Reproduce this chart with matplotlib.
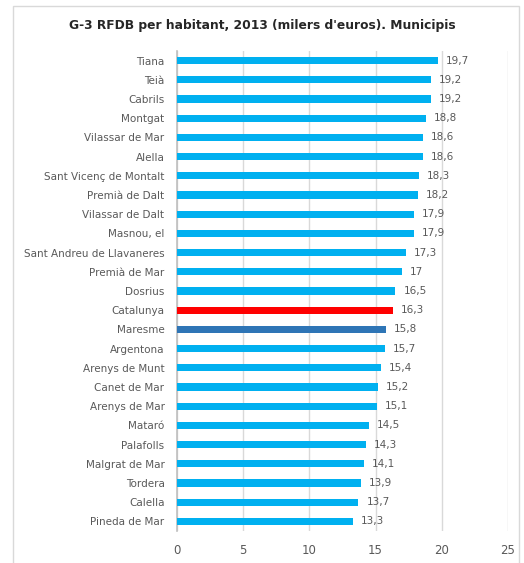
import matplotlib.pyplot as plt
from matplotlib.patches import Rectangle

municipis = ['Tiana', 'Teià', 'Cabrils', 'Montgat', 'Vilassar de Mar', 'Alella',
             'Sant Vicenç de Montalt', 'Premià de Dalt', 'Vilassar de Dalt',
             'Masnou, el', 'Sant Andreu de Llavaneres', 'Premià de Mar', 'Dosrius',
             'Catalunya', 'Maresme', 'Argentona', 'Arenys de Munt', 'Canet de Mar',
             'Arenys de Mar', 'Mataró', 'Palafolls', 'Malgrat de Mar', 'Tordera',
             'Calella', 'Pineda de Mar']
rfdb = [19.7, 19.2, 19.2, 18.8, 18.6, 18.6, 18.3, 18.2, 17.9, 17.9, 17.3, 17.0,
        16.5, 16.3, 15.8, 15.7, 15.4, 15.2, 15.1, 14.5, 14.3, 14.1, 13.9, 13.7, 13.3]
ticks = [0, 5, 10, 15, 20, 25]

colors = []
for m in municipis:
    if m == 'Catalunya':
        colors.append('#FF0000')
    elif m == 'Maresme':
        colors.append('#2E75B6')
    else:
        colors.append('#00B0F0')

fig = plt.figure(figsize=(5.24, 5.63), dpi=100)
fig.patches.append(Rectangle((13 / 524, -0.02), 506 / 524, 1.02 - 6 / 563,
                             transform=fig.transFigure, fill=False,
                             edgecolor='#D9D9D9', linewidth=1))
ax = fig.add_axes([177 / 524, 1 - 531 / 563, 331 / 524, 480 / 563])

n = len(municipis)
ypos = list(range(n))
ax.barh(ypos, rfdb, height=0.38, color=colors, zorder=3)
for y, v in zip(ypos, rfdb):
    txt = f'{v:g}'.replace('.', ',')
    ax.text(v + 0.6, y, txt, va='center', ha='left', fontsize=7.5, color='#595959')

ax.set_ylim(n - 0.5, -0.5)
ax.set_xlim(0, 25)
ax.set_yticks(ypos)
ax.set_yticklabels(municipis, fontsize=7.5, color='#595959')
ax.set_xticks(ticks)
ax.set_xticklabels([str(t) for t in ticks], fontsize=8.5, color='#595959')
ax.tick_params(axis='both', length=0)
ax.tick_params(axis='y', pad=9)
ax.tick_params(axis='x', pad=9)
ax.grid(axis='x', color='#D9D9D9', linewidth=1, zorder=0)
for s in ['top', 'right', 'bottom']:
    ax.spines[s].set_visible(False)
ax.spines['left'].set_color('#BFBFBF')
ax.spines['left'].set_linewidth(1.2)

fig.text(0.5, 1 - 25 / 563, "G-3 RFDB per habitant, 2013 (milers d'euros). Municipis",
         ha='center', va='center', fontsize=8.8, fontweight='bold', color='#262626')

fig.savefig('out.png', dpi=100)
